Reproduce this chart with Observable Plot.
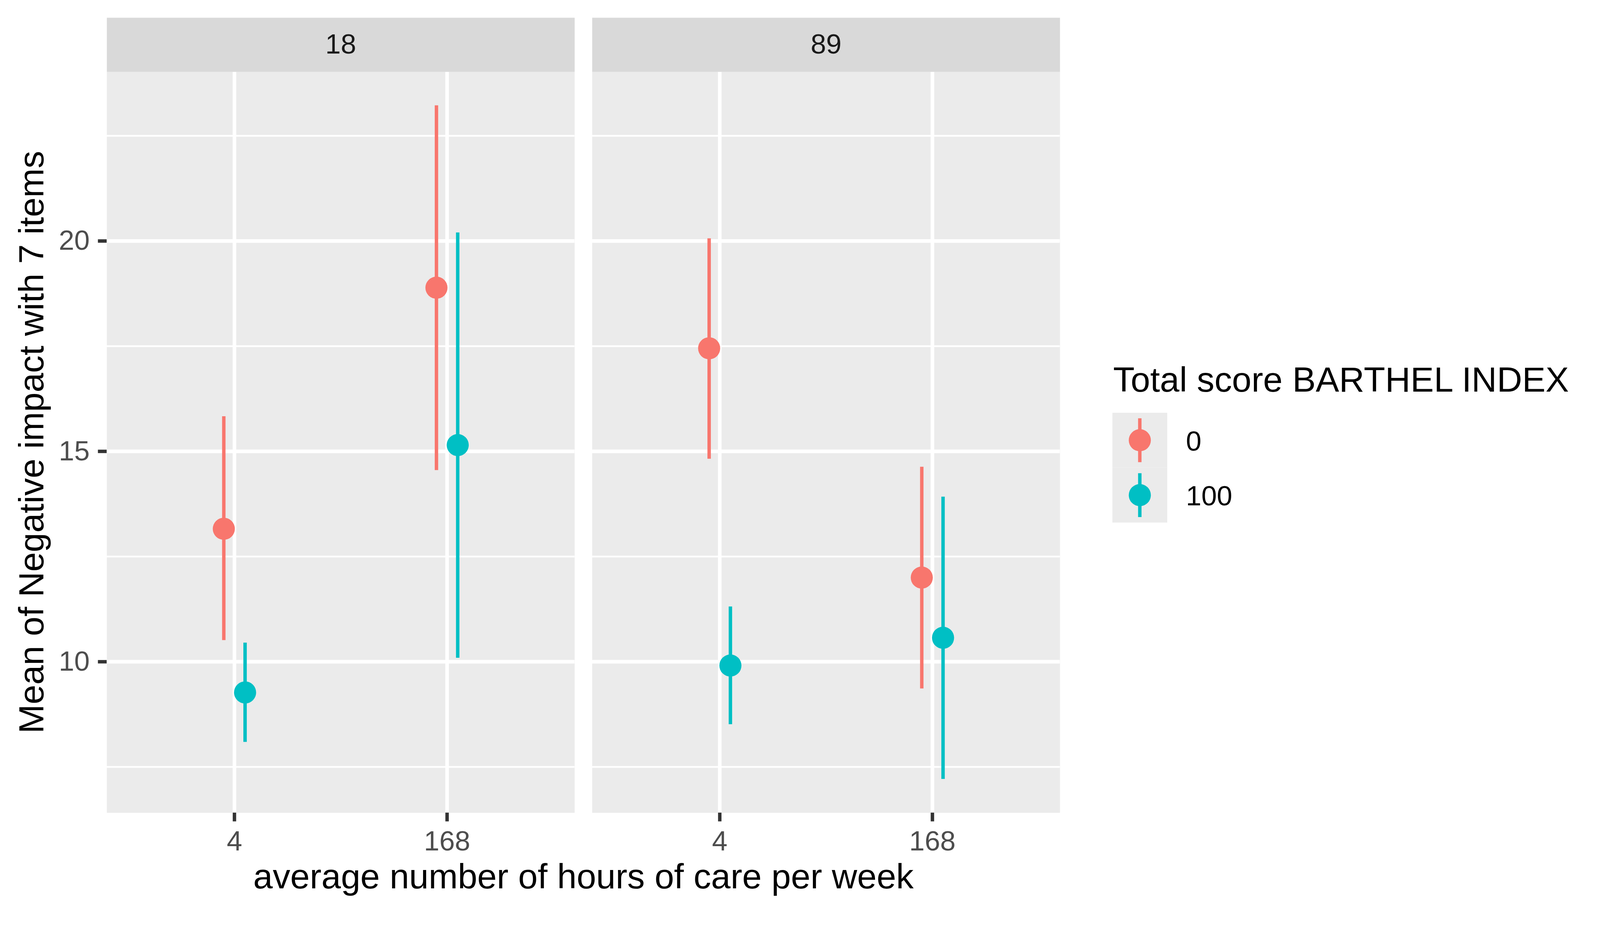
<!DOCTYPE html>
<html>
<head>
<meta charset="utf-8">
<script src="https://cdn.jsdelivr.net/npm/d3@7"></script>
<script src="https://cdn.jsdelivr.net/npm/@observablehq/plot@0.6"></script>
<style>
  html, body { margin: 0; padding: 0; background: #ffffff; }
  #chart svg { display: block; }
</style>
</head>
<body>
<div id="chart"></div>
<script>
// ---- data ----
const panels = ["18", "89"];
const hours = ["4", "168"];
const groups = ["0", "100"];
const groupColors = ["#F8766D", "#00BFC4"];
const rowPanel = ["18", "18", "18", "18", "89", "89", "89", "89"];
const rowHours = ["4", "4", "168", "168", "4", "4", "168", "168"];
const rowGroup = ["0", "100", "0", "100", "0", "100", "0", "100"];
const meanValues = [13.16, 9.27, 18.89, 15.15, 17.45, 9.91, 12.00, 10.57];
const lowerValues = [10.51, 8.09, 14.55, 10.09, 14.82, 8.51, 9.36, 7.21];
const upperValues = [15.83, 10.45, 23.22, 20.20, 20.06, 11.31, 14.63, 13.92];
const yMajorTicks = [10, 15, 20];
const yMinorTicks = [7.5, 12.5, 17.5, 22.5];
const xTitle = "average number of hours of care per week";
const yTitle = "Mean of Negative impact with 7 items";
const legendTitle = "Total score BARTHEL INDEX";

// table built from the arrays
const dodgeWidth = 0.1;
const rows = meanValues.map((m, i) => ({
  panel: rowPanel[i],
  hours: rowHours[i],
  group: rowGroup[i],
  xpos: hours.indexOf(rowHours[i]) + 1 + (groups.indexOf(rowGroup[i]) - 0.5) * dodgeWidth,
  mean: m,
  lower: lowerValues[i],
  upper: upperValues[i]
}));

// ggplot-style expanded domains
const lo = d3.min(lowerValues), hi = d3.max(upperValues);
const padY = 0.05 * (hi - lo);
const yDomain = [lo - padY, hi + padY];
const xDomain = [1 - 0.6, hours.length + 0.6];

// layout
const W = 4200, H = 2400;
const mL = 280, mR = 1417, mT = 188, mB = 268;
const stripH = 142;
const panelGap = 46;
const innerW = W - mL - mR;
const fxPad = panelGap * panels.length / (innerW + panelGap);
const panelH = H - mT - mB;
const font = "'Liberation Sans', Arial, Helvetica, sans-serif";

const plot = Plot.plot({
  width: W,
  height: H,
  marginLeft: mL,
  marginRight: mR,
  marginTop: mT,
  marginBottom: mB,
  style: { fontFamily: font, background: "#ffffff", overflow: "visible" },
  fx: { domain: panels, paddingInner: fxPad, paddingOuter: 0, axis: null, label: null },
  x: { domain: xDomain, axis: null, label: null },
  y: { domain: yDomain, axis: null, label: null },
  color: { domain: groups, range: groupColors },
  marks: [
    Plot.frame({ fill: "#EBEBEB", stroke: "none" }),
    Plot.gridY({ ticks: yMinorTicks, stroke: "#ffffff", strokeOpacity: 1, strokeWidth: 4.7 }),
    Plot.gridY({ ticks: yMajorTicks, stroke: "#ffffff", strokeOpacity: 1, strokeWidth: 9.4 }),
    Plot.gridX({ ticks: [1, 2], stroke: "#ffffff", strokeOpacity: 1, strokeWidth: 9.4 }),
    Plot.frame({ fill: "#D9D9D9", stroke: "none", insetTop: -stripH, insetBottom: panelH }),
    Plot.text(panels, { fx: d => d, text: d => d, frameAnchor: "top", lineAnchor: "middle", dy: -stripH / 2, fontSize: 73, fill: "#1A1A1A" }),
    Plot.ruleX(rows, { fx: "panel", x: "xpos", y1: "lower", y2: "upper", stroke: "group", strokeWidth: 9 }),
    Plot.dot(rows, { fx: "panel", x: "xpos", y: "mean", fill: "group", r: 29 }),
    Plot.axisY({ ticks: yMajorTicks, tickSize: 23, tickPadding: 22, stroke: "#333333", fill: "#4D4D4D", strokeWidth: 9, fontSize: 73, label: null }),
    Plot.axisX({ ticks: [1, 2], tickFormat: i => hours[i - 1], tickSize: 23, tickPadding: 24, stroke: "#333333", fill: "#4D4D4D", strokeWidth: 9, fontSize: 73, label: null })
  ]
});

document.getElementById("chart").appendChild(plot);

// axis titles and legend, drawn with d3 into the same svg
const svg = d3.select(plot);
const color = plot.scale("color");

svg.append("text")
  .attr("x", mL + innerW / 2).attr("y", 2331)
  .attr("text-anchor", "middle")
  .attr("font-family", font).attr("font-size", 92).attr("fill", "#000000")
  .text(xTitle);

svg.append("text")
  .attr("transform", `translate(114, ${mT + panelH / 2}) rotate(-90)`)
  .attr("text-anchor", "middle")
  .attr("font-family", font).attr("font-size", 92).attr("fill", "#000000")
  .text(yTitle);

const lg = svg.append("g").attr("transform", "translate(2920, 0)").attr("text-anchor", "start");
lg.append("text")
  .attr("x", 2).attr("y", 1027)
  .attr("text-anchor", "start")
  .attr("font-family", font).attr("font-size", 92).attr("fill", "#000000")
  .text(legendTitle);

const keySize = 144, keyTop = 1083;
groups.forEach((g, i) => {
  const y0 = keyTop + i * keySize;
  const cy = y0 + keySize / 2;
  const c = color.apply(g);
  lg.append("rect").attr("x", 0).attr("y", y0).attr("width", keySize).attr("height", keySize).attr("fill", "#EBEBEB");
  lg.append("line").attr("x1", keySize / 2).attr("x2", keySize / 2)
    .attr("y1", y0 + keySize * 0.1).attr("y2", y0 + keySize * 0.9)
    .attr("stroke", c).attr("stroke-width", 9);
  lg.append("circle").attr("cx", keySize / 2).attr("cy", cy).attr("r", 29).attr("fill", c);
  lg.append("text").attr("x", 193).attr("y", cy + 27)
    .attr("text-anchor", "start")
    .attr("font-family", font).attr("font-size", 73).attr("fill", "#000000")
    .text(g);
});
</script>
</body>
</html>
